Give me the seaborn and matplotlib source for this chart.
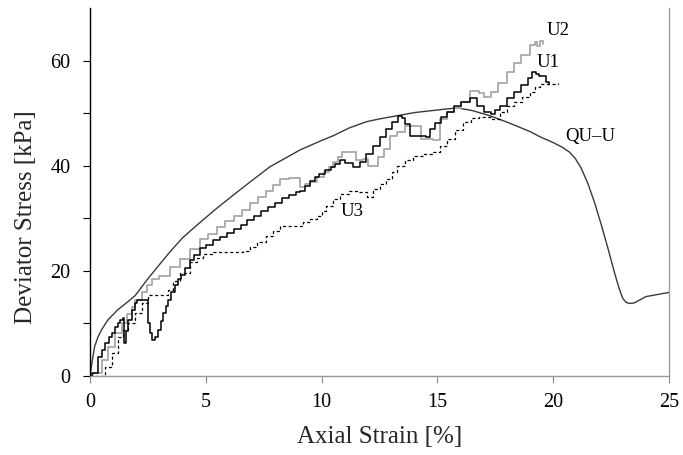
import numpy as np
import pandas as pd
import seaborn as sns
import matplotlib
matplotlib.use("Agg")
import matplotlib.pyplot as plt

# values (strain in %, stress in kPa)
u1_strain = [0.0, 0.1, 0.35, 0.5, 0.65, 0.8, 0.95, 1.1, 1.2, 1.3, 1.43, 1.48, 1.55, 1.64, 1.8,
             1.95, 2.05, 2.46, 2.5, 2.6, 2.68, 2.8, 2.94, 3.05, 3.15, 3.27, 3.37, 3.5, 3.65, 3.8,
             3.95, 4.1, 4.3, 4.5, 4.75, 5.0, 5.3, 5.6, 5.9, 6.2, 6.5, 6.8, 7.1, 7.4, 7.7,
             8.0, 8.3, 8.6, 8.9, 9.07, 9.3, 9.5, 9.7, 9.9, 10.15, 10.4, 10.6, 10.8, 11.0, 11.36,
             11.66, 11.9, 12.2, 12.5, 12.8, 13.05, 13.3, 13.45, 13.6, 13.8, 14.5, 14.7, 14.9, 15.15, 15.4,
             15.7, 16.0, 16.4, 16.7, 17.0, 17.3, 17.5, 17.7, 18.0, 18.3, 18.6, 18.9, 19.1, 19.25, 19.4,
             19.7, 19.8]
u1_stress = [0.0, 0.5, 3.6, 5.0, 6.3, 7.5, 8.2, 9.4, 10.1, 10.7, 11.1, 6.3, 8.5, 10.7, 12.6,
             13.9, 14.5, 14.5, 10.1, 8.2, 6.9, 7.5, 8.8, 10.5, 12.0, 13.3, 14.5, 16.0, 17.4, 18.4,
             19.3, 20.6, 22.0, 23.0, 24.3, 25.0, 25.8, 26.5, 27.2, 27.9, 28.8, 29.6, 30.5, 31.4, 32.2,
             33.0, 33.8, 34.5, 35.0, 35.2, 36.2, 37.1, 37.8, 38.4, 39.1, 39.8, 40.4, 41.0, 40.6, 39.8,
             40.7, 42.3, 43.8, 45.4, 47.0, 48.3, 49.5, 49.0, 48.0, 45.7, 45.5, 47.0, 48.1, 49.2, 50.3,
             51.3, 52.2, 52.8, 51.4, 50.3, 49.9, 50.6, 51.4, 52.8, 54.1, 55.4, 56.6, 57.9, 57.4, 57.0,
             56.0, 55.6]

u2_strain = [0.0, 0.15, 0.5, 0.78, 1.08, 1.37, 1.6, 1.8, 1.95, 2.25, 2.46, 2.68, 3.0, 3.45, 3.9,
             4.3, 4.75, 5.1, 5.5, 5.85, 6.2, 6.55, 6.9, 7.25, 7.6, 7.9, 8.2, 8.6, 8.95, 9.07,
             9.3, 9.5, 9.8, 10.1, 10.3, 10.5, 10.7, 10.9, 11.2, 11.5, 11.8, 12.0, 12.2, 12.45, 12.7,
             12.95, 13.25, 13.6, 14.0, 14.3, 14.8, 15.1, 15.4, 15.7, 16.0, 16.4, 16.8, 17.0, 17.3, 17.6,
             18.0, 18.3, 18.6, 19.0, 19.2, 19.3, 19.43, 19.55]
u2_stress = [0.0, 0.5, 3.0, 5.6, 8.2, 10.1, 11.8, 13.2, 14.5, 15.9, 17.4, 18.4, 19.0, 20.8, 22.2,
             24.1, 26.0, 27.1, 28.3, 29.4, 30.4, 31.6, 33.0, 34.1, 35.2, 36.4, 37.5, 37.7, 37.7, 36.0,
             36.5, 36.9, 37.8, 38.8, 39.8, 40.7, 41.6, 42.6, 42.6, 41.0, 41.3, 40.0, 40.0, 41.6, 43.2,
             45.7, 46.5, 47.6, 47.6, 45.0, 44.8, 48.9, 50.2, 51.0, 52.2, 54.3, 53.8, 53.0, 54.1, 55.8,
             57.9, 59.5, 61.0, 62.9, 63.5, 62.8, 63.7, 63.2]

u3_strain = [0.2, 0.65, 0.95, 1.2, 1.43, 1.64, 1.95, 2.25, 2.5, 3.24, 3.37, 3.6, 3.9, 4.3, 4.6,
             4.9, 5.3, 6.6, 6.9, 7.2, 7.6, 7.9, 8.2, 9.2, 9.5, 9.8, 10.0, 10.2, 10.5, 10.8,
             11.2, 11.6, 11.96, 12.2, 12.5, 12.8, 13.05, 13.25, 13.6, 13.95, 14.4, 14.8, 15.1, 15.4, 15.75,
             16.1, 16.45, 16.8, 17.3, 17.7, 18.0, 18.3, 18.65, 19.0, 19.2, 19.43, 20.2]
u3_stress = [0.0, 1.7, 4.4, 7.5, 8.8, 10.1, 12.0, 13.9, 15.5, 15.5, 16.4, 18.0, 19.5, 21.6, 22.5,
             23.3, 23.5, 23.7, 24.5, 25.5, 26.6, 27.6, 28.5, 29.2, 29.8, 30.4, 31.3, 32.3, 33.7, 34.6,
             35.2, 35.0, 34.0, 35.6, 36.5, 37.5, 38.8, 40.0, 41.0, 41.9, 42.3, 42.6, 43.8, 45.1, 46.8,
             48.4, 49.0, 49.3, 48.9, 50.3, 51.3, 52.2, 53.1, 54.1, 54.9, 55.6, 55.8]

qu_strain = [0.0, 0.1, 0.2, 0.35, 0.5, 0.78, 1.2, 1.6, 1.95, 2.5, 3.0, 3.45, 4.0, 4.75, 5.5,
             6.3, 7.0, 7.77, 8.5, 9.07, 10.0, 10.5, 11.2, 11.96, 12.5, 13.25, 14.0, 15.0, 15.85, 16.5,
             17.27, 18.0, 19.0, 19.43, 20.0, 20.4, 20.7, 20.95, 21.2, 21.5, 21.8, 22.1, 22.4, 22.65, 22.85,
             23.0, 23.15, 23.3, 23.5, 23.75, 24.0, 24.5, 25.0]
qu_stress = [0.0, 3.0, 5.6, 7.5, 8.8, 10.7, 12.6, 14.0, 15.3, 18.5, 21.2, 23.6, 26.3, 29.2, 32.0,
             34.8, 37.2, 39.8, 41.6, 43.0, 44.8, 45.7, 47.2, 48.4, 48.9, 49.5, 50.1, 50.6, 51.0, 50.5,
             49.5, 48.3, 46.5, 45.5, 44.4, 43.5, 42.6, 41.4, 39.6, 36.6, 32.8, 28.4, 23.7, 19.6, 16.6,
             14.8, 14.0, 13.8, 13.9, 14.5, 15.1, 15.5, 15.9]

labels = ["U2", "U1", "U3", "QU\u2013U"]
label_pos = [(20.2, 65.8), (19.8, 59.6), (11.3, 31.3), (21.6, 45.5)]

sns.set_theme(style="ticks")
plt.rcParams["font.family"] = ["Liberation Serif", "DejaVu Serif"]

fig = plt.figure(figsize=(6.83, 4.55), dpi=100)
ax = fig.add_axes([90 / 683, 79 / 455, 579 / 683, 368 / 455])

df_u1 = pd.DataFrame({"strain": u1_strain, "stress": u1_stress})
df_u2 = pd.DataFrame({"strain": u2_strain, "stress": u2_stress})
df_u3 = pd.DataFrame({"strain": u3_strain, "stress": u3_stress})
df_qu = pd.DataFrame({"strain": qu_strain, "stress": qu_stress})

sns.lineplot(data=df_qu, x="strain", y="stress", ax=ax, color="#3a3a3a", lw=1.0)
sns.lineplot(data=df_u3, x="strain", y="stress", ax=ax, color="black", lw=0.9,
             ls=(0, (2.5, 2)), drawstyle="steps-post")
sns.lineplot(data=df_u2, x="strain", y="stress", ax=ax, color="#a8a8a8", lw=1.3,
             drawstyle="steps-post")
sns.lineplot(data=df_u1, x="strain", y="stress", ax=ax, color="black", lw=1.1,
             drawstyle="steps-post")

for lab, (x, y) in zip(labels, label_pos):
    ax.text(x, y, lab, fontsize=13.5, ha="center", va="center", color="black")

ax.set_xlim(0, 25)
ax.set_ylim(0, 70)
ax.set_xticks([0, 5, 10, 15, 20, 25])
ax.set_yticks([0, 10, 20, 30, 40, 50, 60])
ax.set_yticklabels(["0", "", "20", "", "40", "", "60"])
ax.tick_params(axis="both", labelsize=14.5, direction="out", length=5, width=0.8)
ax.tick_params(axis="x", colors="#888888", labelcolor="black", pad=7)
ax.tick_params(axis="y", colors="black", labelcolor="black", pad=9)

ax.set_xlabel("Axial Strain [%]", fontsize=18, labelpad=10)
ax.set_ylabel("Deviator Stress [kPa]", fontsize=18)
# the y label sits a bit below the axes centre in the original
ax.yaxis.set_label_coords(-0.092, 0.433)

ax.spines["top"].set_visible(False)
ax.spines["right"].set_visible(True)
ax.spines["right"].set_color("#999999")
ax.spines["bottom"].set_color("#999999")
ax.spines["left"].set_color("black")
for s in ["left", "bottom", "right"]:
    ax.spines[s].set_linewidth(1.0)

fig.savefig("out.png", dpi=100)
